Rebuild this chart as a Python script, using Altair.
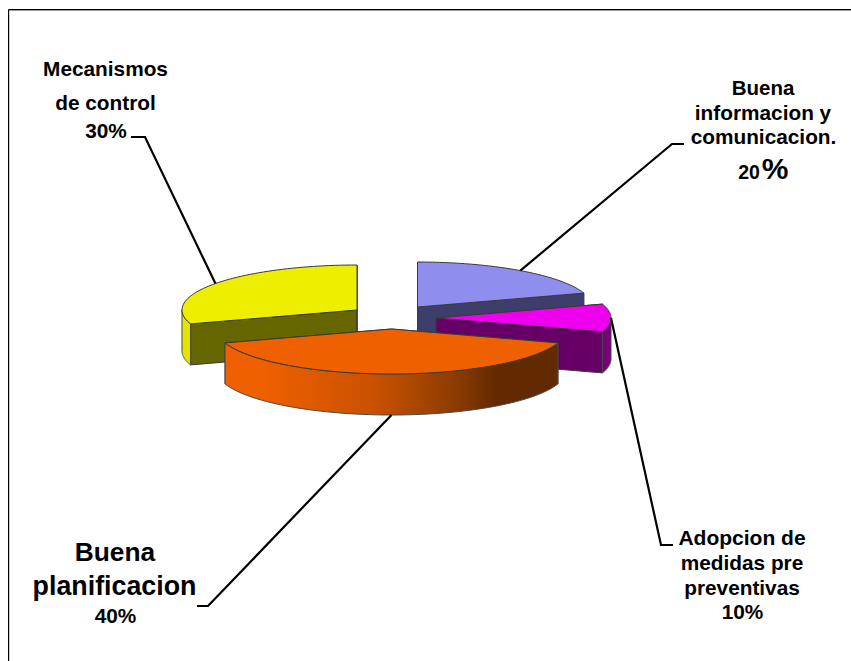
import math
import altair as alt
import pandas as pd

# Slice shares, clockwise from twelve o'clock
CATEGORIES = ["Buena informacion y comunicacion.", "Adopcion de medidas pre preventivas",
              "Buena planificacion", "Mecanismos de control"]
SHARES = [20, 10, 40, 30]
TOP_COLORS = ["#8E8EEE", "#EE00EE", "#EE6000", "#EEEE00"]
INNER_COLORS = ["#3E3E6C", "#660066", "#662B00", "#666600"]
OUTER_COLORS = ["#3E3E6C", "#7A007A", None, "#E4E400"]

# Exploded centre of each slice on the canvas
CENTERS = [(417.5, 307), (436, 318), (391.5, 329), (357, 310)]
RX, RY, DEPTH = 175, 45, 41
W, H = 851, 661

xs = alt.Scale(domain=[0, W], range=[0, W], nice=False, zero=False)
ys = alt.Scale(domain=[0, H], range=[0, H], nice=False, zero=False)
X = alt.X("x:Q", scale=xs, axis=None)
Y = alt.Y("y:Q", scale=ys, axis=None)


def rim(center, deg, drop=0.0):
    t = math.radians(deg)
    return center[0] + RX * math.sin(t), center[1] - RY * math.cos(t) + drop


def arc(center, a0, a1, drop=0.0, steps=60):
    return [rim(center, a0 + (a1 - a0) * i / steps, drop) for i in range(steps + 1)]


def polygon(points, fill, stroke="#3a3a3a", width=1.0):
    closed = list(points) + [points[0]]
    df = pd.DataFrame({"x": [p[0] for p in closed], "y": [p[1] for p in closed],
                       "i": range(len(closed))})
    return alt.Chart(df).mark_line(fill=fill, stroke=stroke, strokeWidth=width,
                                   strokeJoin="round").encode(x=X, y=Y, order="i:Q")


def path(points, color="#000000", width=2.2):
    df = pd.DataFrame({"x": [p[0] for p in points], "y": [p[1] for p in points],
                       "i": range(len(points))})
    return alt.Chart(df).mark_line(stroke=color, strokeWidth=width, strokeJoin="miter",
                                   clip=False).encode(x=X, y=Y, order="i:Q")


def label(text, x, y, size):
    df = pd.DataFrame({"x": [x], "y": [y], "t": [text]})
    return alt.Chart(df).mark_text(font="Liberation Sans", fontWeight="bold", fontSize=size,
                                   align="center", baseline="alphabetic", color="#000000"
                                   ).encode(x=X, y=Y, text="t:N")


# Start and end angle of every slice
edges = [0]
for s in SHARES:
    edges.append(edges[-1] + s * 3.6)
spans = list(zip(edges[:-1], edges[1:]))
mids = [(a + b) / 2 for a, b in spans]

WALL_SHADE = alt.Gradient(gradient="linear", x1=0, x2=1, y1=0, y2=0, stops=[
    alt.GradientStop(color="#EE6000", offset=0),
    alt.GradientStop(color="#EE6000", offset=0.12),
    alt.GradientStop(color="#C95100", offset=0.45),
    alt.GradientStop(color="#8F3D00", offset=0.68),
    alt.GradientStop(color="#622A00", offset=0.82),
    alt.GradientStop(color="#622A00", offset=1),
])


def slice_layers(k):
    c, (a0, a1) = CENTERS[k], spans[k]
    out = []
    # cut faces on both sides of the wedge
    for deg in (a0, a1):
        p = rim(c, deg)
        out.append(polygon([c, p, (p[0], p[1] + DEPTH), (c[0], c[1] + DEPTH)], INNER_COLORS[k]))
    # outer wall, only where the rim faces the viewer
    lo, hi = max(a0, 90), min(a1, 270)
    if lo < hi:
        rows = arc(c, lo, hi)
        df = pd.DataFrame({"x": [p[0] for p in rows], "y": [p[1] for p in rows],
                           "y2": [p[1] + DEPTH for p in rows]})
        paint = OUTER_COLORS[k] or WALL_SHADE
        out.append(alt.Chart(df).mark_area(color=paint, stroke="#4a4a4a", strokeWidth=1).encode(
            x=X, y=Y, y2="y2:Q"))
    # top face
    out.append(polygon([c] + arc(c, a0, a1), TOP_COLORS[k]))
    return out


layers = []
for k in (3, 0, 1, 2):
    layers += slice_layers(k)

# Frame along the top and left edges
layers.append(path([(9, H), (9, 10.5), (W, 10.5)], color="#9a9a9a", width=1))
layers.append(path([(8.5, H), (8.5, 9.5), (W, 9.5)], color="#000000", width=1))

# Leader lines run from the middle of each rim to the label elbow
anchors = [rim(CENTERS[k], mids[k]) for k in range(4)]
anchors[2] = rim(CENTERS[2], mids[2], DEPTH)
layers.append(path([anchors[3], (145, 137), (131, 137)]))
layers.append(path([anchors[0], (672, 144), (684, 144)]))
layers.append(path([anchors[1], (661, 545), (673, 545)]))
layers.append(path([anchors[2], (208, 606), (197, 606)]))

# Labels
layers += [
    label("Mecanismos", 105.5, 76, 20.8),
    label("de control", 105.5, 110, 20.8),
    label("30%", 106, 138, 20.8),
    label("Buena", 763, 95, 20.5),
    label("informacion y", 763, 120, 20.8),
    label("comunicacion.", 763.5, 144, 20.8),
    label("20", 749, 179, 19.5),
    label("%", 775, 179, 30),
    label("Adopcion de", 742, 545, 21),
    label("medidas pre", 742, 570, 20.8),
    label("preventivas", 742, 595, 20.8),
    label("10%", 742.5, 619, 20.8),
    label("Buena", 115, 561, 26.3),
    label("planificacion", 114.5, 595, 26.8),
    label("40%", 115.5, 623, 20.8),
]

chart = alt.layer(*layers).properties(
    width=W, height=H, padding=0, autosize=alt.AutoSizeParams(type="none"),
    background="#FFFFFF",
).configure_view(stroke=None)

chart.save("out.html", embed_options={"renderer": "svg", "actions": False})
